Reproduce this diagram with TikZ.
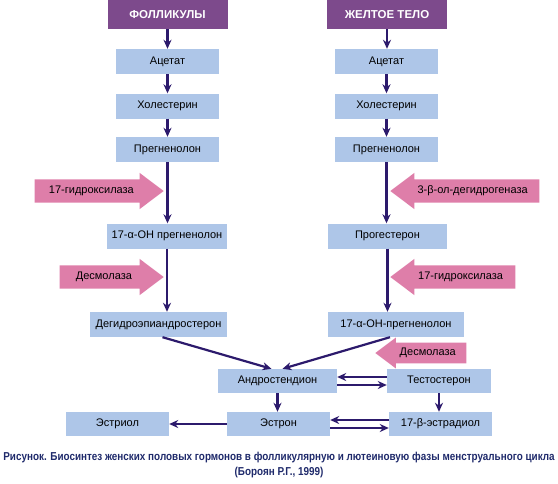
\documentclass[tikz,border=0pt]{standalone}
\usepackage{fontspec}
\setmainfont{Liberation Sans}
\newfontfamily\capfont[FakeStretch=0.86]{Liberation Sans}
\usepackage{xcolor}
\definecolor{hdrpurple}{HTML}{7D4A8C}
\definecolor{stageblue}{HTML}{AEC6E8}
\definecolor{enzpink}{HTML}{DE7EA9}
\definecolor{flownavy}{HTML}{2C1A6C}
\definecolor{capblue}{HTML}{1F2A6B}
\usetikzlibrary{shapes.arrows, arrows.meta, positioning, calc}

\begin{document}
\begin{tikzpicture}[x=1pt, y=-1pt,
  header/.style={rectangle, fill=hdrpurple, text=white, font=\bfseries\fontsize{11.5}{13}\selectfont, minimum width=120pt, minimum height=29pt},
  stage/.style={rectangle, fill=stageblue, font=\fontsize{11}{13}\selectfont, minimum width=103pt, minimum height=25pt, inner sep=0pt},
  enzyme/.style={single arrow, fill=enzpink, font=\fontsize{11}{13}\selectfont, single arrow head extend=6.5pt, single arrow tip angle=74, text height=7.5pt, text depth=2pt, inner ysep=6.75pt, inner xsep=0pt, minimum height=#1},
  flow/.style={draw=flownavy, line width=2.2pt, -{Stealth[length=9pt,width=8pt]}}]
\useasboundingbox (0,0) rectangle (558,483);

% Follicles
\node[header] (hdrL) at (167.5,14.5) {ФОЛЛИКУЛЫ};
\node[stage] (acL) at (167.5,61.5) {Ацетат};
\node[stage] (cholL) at (167.5,106) {Холестерин};
\node[stage] (pregL) at (167.5,149.5) {Прегненолон};
\node[stage, minimum width=120pt] (ohpL) at (167,236) {17-α-ОН прегненолон};
\node[stage, minimum width=137pt] (dheaL) at (158.5,324.5) {Дегидроэпиандростерон};

% Corpus luteum
\node[header] (hdrR) at (387,14.5) {ЖЕЛТОЕ ТЕЛО};
\node[stage] (acR) at (386.5,61.5) {Ацетат};
\node[stage] (cholR) at (386.5,106) {Холестерин};
\node[stage] (pregR) at (386.5,149.5) {Прегненолон};
\node[stage, minimum width=119pt] (progR) at (387.5,236) {Прогестерон};
\node[stage, minimum width=136pt] (ohpR) at (396,324.5) {17-α-ОН-прегненолон};

% Common part
\node[stage, minimum width=119pt, minimum height=24pt] (andro) at (277.5,381) {Андростендион};
\node[stage, minimum width=104pt, minimum height=24pt] (testo) at (439,381) {Тестостерон};
\node[stage, minimum height=24pt] (estron) at (278.5,424) {Эстрон};
\node[stage, minimum height=24pt] (estradiol) at (440.5,424) {17-β-эстрадиол};
\node[stage, minimum height=24pt] (estriol) at (117.5,424) {Эстриол};

% Enzymes
\node[enzyme=129pt, anchor=tip] (hydrL) at (164,191) {17-гидроксилаза};
\node[enzyme=104pt, anchor=tip] (desmL) at (164,277) {Десмолаза};
\node[enzyme=149pt, anchor=tip, shape border rotate=180] (dehydR) at (390,191) {3-β-ол-дегидрогеназа};
\node[enzyme=125pt, anchor=tip, shape border rotate=180] (hydrR) at (390,277) {17-гидроксилаза};
\node[enzyme=91pt, anchor=tip, shape border rotate=180, inner ysep=5.5pt, single arrow head extend=5pt] (desmR) at (375,353) {Десмолаза};

% Pathways
\foreach \a/\b in {hdrL/acL, acL/cholL, cholL/pregL, pregL/ohpL, ohpL/dheaL,
                   hdrR/acR, acR/cholR, cholR/pregR, pregR/progR, progR/ohpR,
                   andro/estron, testo/estradiol} {
    \draw[flow] (\a.south) -- (\a.south |- \b.north);
}
\draw[flow] (estron) -- (estriol);
\draw[flow] ([xshift=4pt]dheaL.south) -- ([xshift=-6pt]andro.north);
\draw[flow] ([xshift=-6pt]ohpR.south) -- ([xshift=5pt]andro.north);
\draw[flow] ([yshift=4pt]testo.west) -- ([yshift=4pt]andro.east);
\draw[flow] ([yshift=-4pt]andro.east) -- ([yshift=-4pt]testo.west);
\draw[flow] ([yshift=4pt]estradiol.west) -- ([yshift=4pt]estron.east);
\draw[flow] ([yshift=-4pt]estron.east) -- ([yshift=-4pt]estradiol.west);

% Caption
\node[align=center, text=capblue, font=\capfont\bfseries\fontsize{11.5}{15}\selectfont] (caption) at (279,465)
  {Рисунок. Биосинтез женских половых гормонов в фолликулярную и лютеиновую фазы менструального цикла\\(Бороян Р.Г., 1999)};
\end{tikzpicture}
\end{document}
